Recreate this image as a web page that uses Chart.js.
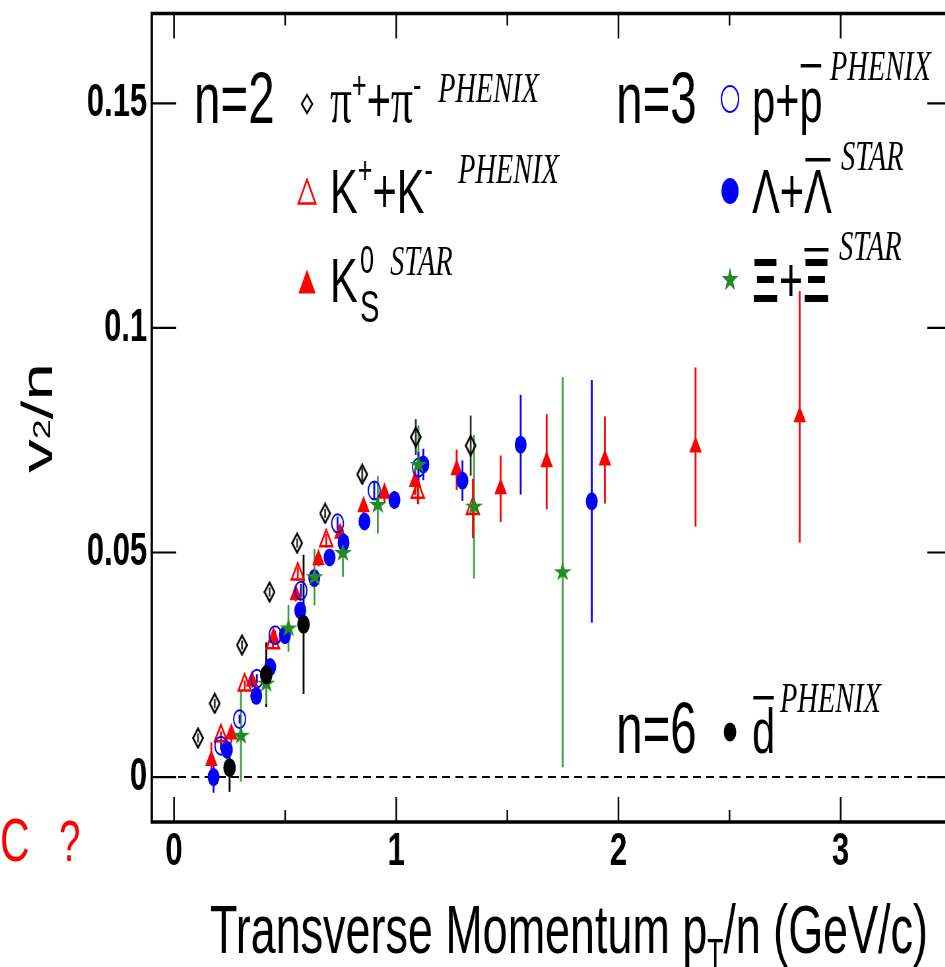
<!DOCTYPE html>
<html>
<head>
<meta charset="utf-8">
<script src="https://cdn.jsdelivr.net/npm/chart.js@4.4.1/dist/chart.umd.min.js"></script>
<style>
  html, body { margin: 0; padding: 0; background: #fff; overflow: hidden; }
  #wrap { width: 1460px; height: 967px; transform: scaleX(0.66); transform-origin: 0 0; }
</style>
</head>
<body>
<div id="wrap"><canvas id="c" width="1460" height="967"></canvas></div>
<script>
// the original figure is squeezed sideways, so draw wide and compress
const K = 0.66;
const ix = v => v / K;

// axis ticks
const xTickValues = [0, 1, 2, 3];
const xTickLabels = ['0', '1', '2', '3'];
const xMinorValues = [0.5, 1.5, 2.5];
const yTickValues = [0, 0.05, 0.1, 0.15];
const yTickLabels = ['0', '0.05', '0.1', '0.15'];

// n=2  pi+ + pi-  PHENIX
const piX   = [0.108, 0.183, 0.306, 0.430, 0.554, 0.680, 0.847, 1.088, 1.335];
const piY   = [0.0087, 0.0164, 0.0294, 0.0412, 0.0521, 0.0587, 0.0674, 0.0757, 0.0738];
const piErr = [0.001, 0.001, 0.001, 0.001, 0.001, 0.001, 0.0015, 0.004, 0.0067];

// n=2  K+ + K-  PHENIX
const kchX   = [0.211, 0.318, 0.445, 0.557, 0.685, 1.097, 1.345];
const kchY   = [0.0092, 0.0205, 0.0299, 0.0452, 0.0526, 0.0634, 0.0598];
const kchErr = [0.001, 0.001, 0.001, 0.0015, 0.0015, 0.0026, 0.0066];

// n=2  K0s  STAR
const k0X   = [0.168, 0.258, 0.351, 0.448, 0.548, 0.650, 0.748, 0.853, 0.947, 1.085, 1.272, 1.470, 1.677, 1.939, 2.347, 2.816];
const k0Y   = [0.0037, 0.0096, 0.0214, 0.0310, 0.0406, 0.0484, 0.0543, 0.0602, 0.0632, 0.0658, 0.0684, 0.0642, 0.0702, 0.0706, 0.0735, 0.0802];
const k0Err = [0.004, 0.002, 0.0015, 0.0015, 0.0015, 0.0015, 0.0015, 0.002, 0.002, 0.003, 0.0045, 0.0074, 0.0106, 0.0097, 0.0177, 0.028];

// n=3  p + pbar  PHENIX
const prX   = [0.211, 0.295, 0.373, 0.455, 0.571, 0.736, 0.901, 1.100];
const prY   = [0.0070, 0.0129, 0.0219, 0.0316, 0.0415, 0.0565, 0.0638, 0.0689];
const prErr = [0.001, 0.001, 0.001, 0.001, 0.0015, 0.0015, 0.002, 0.0035];

// n=3  Lambda + Lambdabar  STAR
const laX   = [0.178, 0.238, 0.370, 0.433, 0.499, 0.568, 0.631, 0.700, 0.763, 0.857, 0.992, 1.122, 1.298, 1.560, 1.880];
const laY   = [0.0000, 0.0061, 0.0181, 0.0245, 0.0316, 0.0371, 0.0443, 0.0489, 0.0522, 0.0569, 0.0617, 0.0696, 0.0660, 0.0740, 0.0614];
const laErr = [0.0035, 0.002, 0.0015, 0.0015, 0.0015, 0.0015, 0.0015, 0.0015, 0.0015, 0.0015, 0.002, 0.0035, 0.0045, 0.0111, 0.027];

// n=3  Xi + Xibar  STAR
const xiX   = [0.301, 0.415, 0.515, 0.632, 0.760, 0.917, 1.100, 1.350, 1.749];
const xiY   = [0.0092, 0.0208, 0.0331, 0.0445, 0.0499, 0.0606, 0.0695, 0.0602, 0.0456];
const xiErr = [0.0102, 0.0045, 0.0052, 0.0063, 0.0053, 0.0064, 0.0088, 0.016, 0.0434];

// n=6  dbar  PHENIX
const dbX   = [0.250, 0.415, 0.583];
const dbY   = [0.0021, 0.0228, 0.0340];
const dbErr = [0.0054, 0.0072, 0.0155];

const RED = '#ff0000', BLUE = '#0000ff', GREEN = '#228b22', BLACK = '#000000';
const SANS = "'Liberation Sans', Arial, sans-serif";
const SERIF = "'Liberation Serif', 'Times New Roman', serif";

function pts(xs, ys) {
  return xs.map((x, i) => ({ x: x, y: ys[i] }));
}

function starPath(ctx, cx, cy, rx, ry) {
  ctx.beginPath();
  for (let i = 0; i < 10; i++) {
    const a = -Math.PI / 2 + i * Math.PI / 5;
    const r = i % 2 ? 0.382 : 1;
    ctx.lineTo(cx + Math.cos(a) * rx * r, cy + Math.sin(a) * ry * r);
  }
  ctx.closePath();
}

function diamondPath(ctx, cx, cy, hw, hh) {
  ctx.beginPath();
  ctx.moveTo(cx, cy - hh);
  ctx.lineTo(cx + hw, cy);
  ctx.lineTo(cx, cy + hh);
  ctx.lineTo(cx - hw, cy);
  ctx.closePath();
}

function triPath(ctx, cx, cy, hw, h) {
  ctx.beginPath();
  ctx.moveTo(cx, cy - h * 0.6);
  ctx.lineTo(cx + hw, cy + h * 0.4);
  ctx.lineTo(cx - hw, cy + h * 0.4);
  ctx.closePath();
}

// custom marker images
function makeStar(w, h, color) {
  const c = document.createElement('canvas');
  c.width = w; c.height = h;
  const g = c.getContext('2d');
  g.fillStyle = color;
  starPath(g, w / 2, h / 2, w / 2 / 0.951, h / 2);
  g.fill();
  return c;
}
function makeDiamond(w, h) {
  const c = document.createElement('canvas');
  c.width = w; c.height = h;
  const g = c.getContext('2d');
  g.strokeStyle = BLACK;
  g.lineWidth = 2.6;
  diamondPath(g, w / 2, h / 2, w / 2 - 1.5, h / 2 - 1.5);
  g.stroke();
  return c;
}
const starImg = makeStar(27, 20, GREEN);
const diamondImg = makeDiamond(18, 22);

const datasets = [
  { label: 'dbar', data: pts(dbX, dbY), err: dbErr, errColor: BLACK,
    pointStyle: 'circle', pointRadius: 9.5, backgroundColor: BLACK, borderColor: BLACK, borderWidth: 0 },
  { label: 'Xi', data: pts(xiX, xiY), err: xiErr, errColor: '#3f9f3f',
    pointStyle: starImg, pointRadius: 10 },
  { label: 'p', data: pts(prX, prY), err: prErr, errColor: BLUE,
    pointStyle: 'circle', pointRadius: 9, backgroundColor: 'rgba(0,0,0,0)', borderColor: BLUE, borderWidth: 2 },
  { label: 'Kch', data: pts(kchX, kchY), err: kchErr, errColor: RED,
    pointStyle: 'triangle', pointRadius: 11, backgroundColor: 'rgba(0,0,0,0)', borderColor: RED, borderWidth: 2.5 },
  { label: 'pi', data: pts(piX, piY), err: piErr, errColor: '#333333',
    pointStyle: diamondImg, pointRadius: 10 },
  { label: 'Lambda', data: pts(laX, laY), err: laErr, errColor: BLUE,
    pointStyle: 'circle', pointRadius: 9, backgroundColor: BLUE, borderColor: BLUE, borderWidth: 0 },
  { label: 'K0s', data: pts(k0X, k0Y), err: k0Err, errColor: RED,
    pointStyle: 'triangle', pointRadius: 11, backgroundColor: RED, borderColor: RED, borderWidth: 0 }
];
datasets.forEach(d => { d.showLine = false; d.pointHoverRadius = d.pointRadius; });

// error bars + dashed zero line, under the markers
const errorBars = {
  id: 'errorBars',
  beforeDatasetsDraw(chart) {
    const { ctx, chartArea: a, scales: { x, y } } = chart;
    ctx.save();
    ctx.strokeStyle = BLACK;
    ctx.lineWidth = 2;
    ctx.setLineDash([12, 8]);
    ctx.beginPath();
    ctx.moveTo(a.left, y.getPixelForValue(0));
    ctx.lineTo(a.right, y.getPixelForValue(0));
    ctx.stroke();
    ctx.setLineDash([]);
    ctx.lineWidth = 2.8;
    chart.data.datasets.forEach(ds => {
      ctx.strokeStyle = ds.errColor;
      ds.data.forEach((p, i) => {
        const px = x.getPixelForValue(p.x);
        ctx.beginPath();
        ctx.moveTo(px, y.getPixelForValue(p.y - ds.err[i]));
        ctx.lineTo(px, y.getPixelForValue(p.y + ds.err[i]));
        ctx.stroke();
      });
    });
    ctx.restore();
  }
};

// ROOT style frame with inner ticks
const frame = {
  id: 'frame',
  afterDatasetsDraw(chart) {
    const { ctx, chartArea: a, scales: { x, y } } = chart;
    ctx.save();
    ctx.strokeStyle = BLACK;
    ctx.lineWidth = 2.5;
    ctx.beginPath();
    xTickValues.forEach(v => {
      const px = x.getPixelForValue(v);
      ctx.moveTo(px, a.bottom); ctx.lineTo(px, a.bottom - 25);
      ctx.moveTo(px, a.top); ctx.lineTo(px, a.top + 25);
    });
    xMinorValues.forEach(v => {
      const px = x.getPixelForValue(v);
      ctx.moveTo(px, a.bottom); ctx.lineTo(px, a.bottom - 12);
      ctx.moveTo(px, a.top); ctx.lineTo(px, a.top + 12);
    });
    ctx.stroke();
    ctx.lineWidth = 2.2;
    ctx.beginPath();
    yTickValues.forEach(v => {
      const py = y.getPixelForValue(v);
      ctx.moveTo(a.left, py); ctx.lineTo(a.left + 37, py);
      ctx.moveTo(a.right, py); ctx.lineTo(a.right - 37, py);
    });
    ctx.stroke();
    ctx.lineWidth = 3.5;
    ctx.strokeRect(a.left, a.top, a.right - a.left, a.bottom - a.top);
    ctx.restore();
  }
};

function rich(ctx, x, y, parts) {
  const xs = [];
  parts.forEach(p => {
    ctx.font = p.font;
    xs.push(x);
    ctx.fillText(p.t, x, y + (p.dy || 0));
    x += ctx.measureText(p.t).width;
  });
  xs.push(x);
  return xs;
}

const labels = {
  id: 'labels',
  afterDraw(chart) {
    const ctx = chart.ctx;
    const big = '72px ' + SANS, mid = '63px ' + SANS, sup = '38px ' + SANS;
    const exp = 'italic 43px ' + SERIF;
    const bar = (x0, x1, yy) => ctx.fillRect(x0 + 2, yy, x1 - x0 - 4, 3.5);
    ctx.save();
    ctx.fillStyle = BLACK;
    ctx.textBaseline = 'alphabetic';
    ctx.textAlign = 'left';

    // n=2 column
    rich(ctx, ix(198) - 6, 123, [{ t: 'n=2', font: big }]);
    rich(ctx, ix(330), 122, [
      { t: 'π', font: '66px ' + SERIF }, { t: '+', font: sup, dy: -24 },
      { t: '+', font: mid }, { t: 'π', font: '66px ' + SERIF }, { t: '-', font: sup, dy: -24 }]);
    rich(ctx, ix(438), 102, [{ t: 'PHENIX', font: exp }]);
    rich(ctx, ix(330), 213, [
      { t: 'K', font: mid }, { t: '+', font: sup, dy: -30 },
      { t: '+', font: mid }, { t: 'K', font: mid }, { t: '-', font: sup, dy: -30 }]);
    rich(ctx, ix(458), 183, [{ t: 'PHENIX', font: exp }]);
    rich(ctx, ix(330), 302, [{ t: 'K', font: mid }]);
    rich(ctx, ix(360), 273, [{ t: '0', font: sup }]);
    rich(ctx, ix(360), 322, [{ t: 'S', font: '44px ' + SANS }]);
    rich(ctx, ix(390), 275, [{ t: 'STAR', font: exp }]);

    // n=3 column
    rich(ctx, ix(620) - 6, 123, [{ t: 'n=3', font: big }]);
    let xs = rich(ctx, ix(752), 122, [{ t: 'p+', font: mid }, { t: 'p', font: mid }]);
    bar(xs[1], xs[2], 64);
    rich(ctx, ix(830), 80, [{ t: 'PHENIX', font: exp }]);
    xs = rich(ctx, ix(752), 213, [{ t: 'Λ+', font: mid }, { t: 'Λ', font: mid }]);
    bar(xs[1], xs[2], 158);
    rich(ctx, ix(841), 170, [{ t: 'STAR', font: exp }]);
    xs = rich(ctx, ix(752), 302, [{ t: 'Ξ', font: 'bold 63px ' + SANS }, { t: '+', font: mid }, { t: 'Ξ', font: 'bold 63px ' + SANS }]);
    bar(xs[2], xs[3], 248);
    rich(ctx, ix(839), 260, [{ t: 'STAR', font: exp }]);

    // n=6
    rich(ctx, ix(620) - 6, 753, [{ t: 'n=6', font: big }]);
    xs = rich(ctx, ix(752), 753, [{ t: 'd', font: mid }]);
    bar(xs[0], xs[1], 696);
    rich(ctx, ix(780), 712, [{ t: 'PHENIX', font: exp }]);

    // legend markers
    ctx.lineWidth = 2.5;
    ctx.strokeStyle = BLACK;
    diamondPath(ctx, ix(307), 104, 8, 9);
    ctx.stroke();
    ctx.strokeStyle = RED;
    triPath(ctx, ix(307), 194, 13, 24);
    ctx.stroke();
    ctx.fillStyle = RED;
    triPath(ctx, ix(307), 284, 13, 24);
    ctx.fill();
    ctx.strokeStyle = BLUE;
    ctx.lineWidth = 2.2;
    ctx.beginPath(); ctx.arc(ix(730), 99, 13, 0, Math.PI * 2); ctx.stroke();
    ctx.fillStyle = BLUE;
    ctx.beginPath(); ctx.arc(ix(730), 191, 13, 0, Math.PI * 2); ctx.fill();
    ctx.fillStyle = GREEN;
    starPath(ctx, ix(730), 280, 13, 13);
    ctx.fill();
    ctx.fillStyle = BLACK;
    ctx.beginPath(); ctx.arc(ix(730), 732, 9.5, 0, Math.PI * 2); ctx.fill();

    // axis titles
    rich(ctx, ix(212) - 3, 953, [
      { t: 'Transverse Momentum p', font: '68px ' + SANS },
      { t: 'T', font: '40px ' + SANS, dy: 14 },
      { t: '/n (GeV/c)', font: '68px ' + SANS }]);

    const yParts = [{ t: 'v', font: '67px ' + SANS }, { t: '2', font: '36px ' + SANS, dy: -3 }, { t: '/n', font: '67px ' + SANS }];
    let w = 0;
    yParts.forEach(p => { ctx.font = p.font; w += ctx.measureText(p.t).width; });
    ctx.save();
    ctx.translate(ix(52), 418);
    ctx.rotate(-Math.PI / 2);
    rich(ctx, -w / 2, 0, yParts);
    ctx.restore();

    // stray red mark at bottom left
    ctx.fillStyle = RED;
    rich(ctx, 0, 861, [{ t: 'C', font: '62px ' + SANS }]);
    rich(ctx, ix(59), 861, [{ t: '?', font: '58px ' + SANS }]);
    ctx.restore();
  }
};

const tickFont = { family: SANS, size: 47, weight: 'bold' };
const noPad = s => { s.paddingTop = 0; s.paddingBottom = 0; s.paddingLeft = 0; s.paddingRight = 0; };

new Chart(document.getElementById('c'), {
  type: 'scatter',
  data: { datasets: datasets },
  options: {
    responsive: false,
    animation: false,
    devicePixelRatio: 1,
    events: [],
    layout: { padding: { left: 0, right: 18, top: 10, bottom: 0 } },
    plugins: { legend: { display: false }, tooltip: { enabled: false } },
    scales: {
      x: {
        type: 'linear', min: -0.1, max: 3.5,
        grid: { display: false, drawTicks: false },
        border: { display: false },
        afterBuildTicks: s => { s.ticks = xTickValues.map(v => ({ value: v })); },
        afterFit: s => { s.height = 145; noPad(s); },
        ticks: { callback: (v, i) => xTickLabels[i], font: tickFont, color: BLACK,
                 padding: 2, maxRotation: 0, autoSkip: false }
      },
      y: {
        type: 'linear', min: -0.01, max: 0.17,
        grid: { display: false, drawTicks: false },
        border: { display: false },
        afterBuildTicks: s => { s.ticks = yTickValues.map(v => ({ value: v })); },
        afterFit: s => { s.width = 230; noPad(s); },
        ticks: { callback: (v, i) => yTickLabels[i], font: tickFont, color: BLACK,
                 padding: 7, autoSkip: false }
      }
    }
  },
  plugins: [errorBars, frame, labels]
});
</script>
</body>
</html>
